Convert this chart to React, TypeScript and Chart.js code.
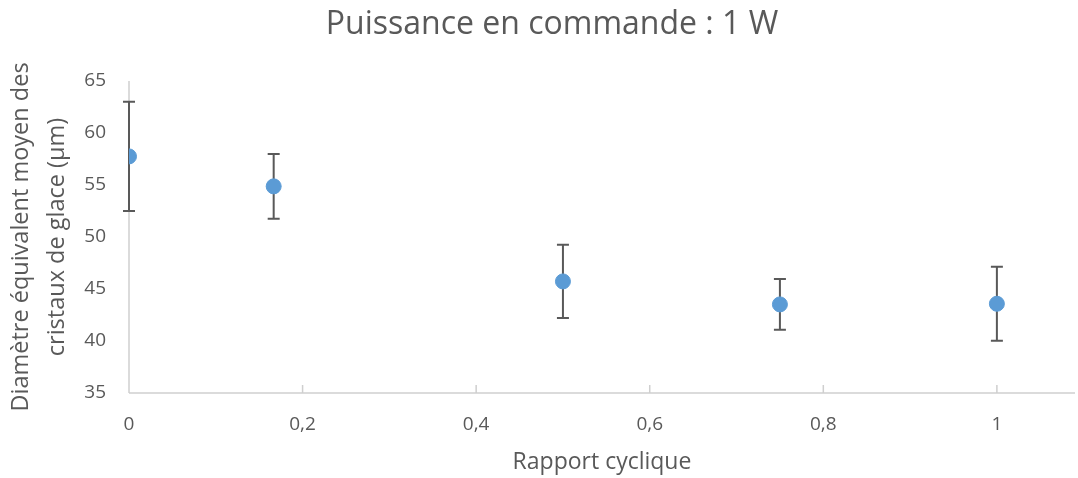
import React, { useEffect, useRef } from "react";
import { Chart, registerables } from "chart.js";

Chart.register(...registerables);

const xValues = [0, 0.1667, 0.5, 0.75, 1];
const yMeans = [57.75, 54.87, 45.73, 43.52, 43.58];
const yErrors = [5.25, 3.12, 3.52, 2.44, 3.56];
const xTickValues = [0, 0.2, 0.4, 0.6, 0.8, 1];
const yTickValues = [35, 40, 45, 50, 55, 60, 65];

const chartTitle = "Puissance en commande : 1 W";
const xTitle = "Rapport cyclique";
const yTitle = ["Diamètre équivalent moyen des", "cristaux de glace (µm)"];

const FONT = "'Open Sans', sans-serif";
const TEXT = "#595959";

const errorBarPlugin = {
  id: "errorBars",
  beforeDatasetsDraw(chart: any) {
    const ctx = chart.ctx;
    const xs = chart.scales.x;
    const ys = chart.scales.y;
    ctx.save();
    ctx.strokeStyle = "#595959";
    ctx.lineWidth = 2;
    for (let i = 0; i < xValues.length; i++) {
      const px = xs.getPixelForValue(xValues[i]);
      const top = ys.getPixelForValue(yMeans[i] + yErrors[i]);
      const bot = ys.getPixelForValue(yMeans[i] - yErrors[i]);
      ctx.beginPath();
      ctx.moveTo(px, top);
      ctx.lineTo(px, bot);
      ctx.moveTo(px - 6, top);
      ctx.lineTo(px + 6, top);
      ctx.moveTo(px - 6, bot);
      ctx.lineTo(px + 6, bot);
      ctx.stroke();
    }
    ctx.restore();
  },
};

const axesPlugin = {
  id: "axesLines",
  beforeDatasetsDraw(chart: any) {
    const ctx = chart.ctx;
    const xs = chart.scales.x;
    const area = chart.chartArea;
    ctx.save();
    ctx.strokeStyle = "#CFCFCF";
    ctx.lineWidth = 1.5;
    ctx.beginPath();
    ctx.moveTo(area.left, area.top);
    ctx.lineTo(area.left, area.bottom);
    ctx.moveTo(area.left, area.bottom);
    ctx.lineTo(area.right, area.bottom);
    for (const v of xTickValues) {
      const px = xs.getPixelForValue(v);
      ctx.moveTo(px, area.bottom);
      ctx.lineTo(px, area.bottom - 8);
    }
    ctx.stroke();
    ctx.restore();
  },
};

const titlePlugin = {
  id: "customTitle",
  afterDraw(chart: any) {
    const ctx = chart.ctx;
    ctx.save();
    ctx.fillStyle = TEXT;
    ctx.font = `32px ${FONT}`;
    ctx.textAlign = "center";
    ctx.textBaseline = "alphabetic";
    ctx.fillText(chartTitle, 552, 34);
    ctx.restore();
  },
};

export default function App() {
  const ref = useRef<HTMLCanvasElement>(null);
  useEffect(() => {
    document.body.style.margin = "0";
    const chart = new Chart(ref.current!, {
      type: "scatter",
      data: {
        datasets: [
          {
            data: xValues.map((x, i) => ({ x, y: yMeans[i] })),
            backgroundColor: "#5B9BD5",
            borderColor: "#5B9BD5",
            pointRadius: 7.5,
            pointHoverRadius: 7.5,
          },
        ],
      },
      plugins: [axesPlugin, errorBarPlugin, titlePlugin],
      options: {
        animation: false,
        responsive: false,
        layout: { autoPadding: false, padding: { left: 0, right: 3, top: 81, bottom: 0 } },
        plugins: {
          legend: { display: false },
          tooltip: { enabled: false },
          title: { display: false },
        },
        scales: {
          x: {
            type: "linear",
            min: 0,
            max: 1.09,
            afterBuildTicks(scale: any) {
              scale.ticks = xTickValues.map((v) => ({ value: v }));
            },
            afterFit(scale: any) {
              scale.height = 85;
              scale.paddingLeft = 0;
              scale.paddingRight = 0;
            },
            grid: { display: false, drawTicks: false },
            border: { display: false },
            ticks: {
              color: TEXT,
              font: { family: FONT, size: 19 },
              padding: 20,
              callback: (v: any) => String(Math.round(Number(v) * 10) / 10).replace(".", ","),
            },
            title: {
              display: true,
              text: xTitle,
              color: TEXT,
              font: { family: FONT, size: 23, lineHeight: 1.2 },
              padding: { top: 0, bottom: 2 },
            },
          },
          y: {
            type: "linear",
            min: 35,
            max: 65,
            afterBuildTicks(scale: any) {
              scale.ticks = yTickValues.map((v) => ({ value: v }));
            },
            afterFit(scale: any) {
              scale.width = 129;
            },
            grid: { display: false, drawTicks: false },
            border: { display: false },
            ticks: {
              color: TEXT,
              font: { family: FONT, size: 19 },
              padding: 23,
            },
            title: {
              display: true,
              text: yTitle,
              color: TEXT,
              font: { family: FONT, size: 23.5, lineHeight: 1.55 },
              padding: { top: 3, bottom: 0 },
            },
          },
        },
      },
    } as any);
    return () => chart.destroy();
  }, []);
  return (
    <div style={{ width: 1078, height: 478 }}>
      <canvas ref={ref} width={1078} height={478} style={{ display: "block" }} />
    </div>
  );
}
